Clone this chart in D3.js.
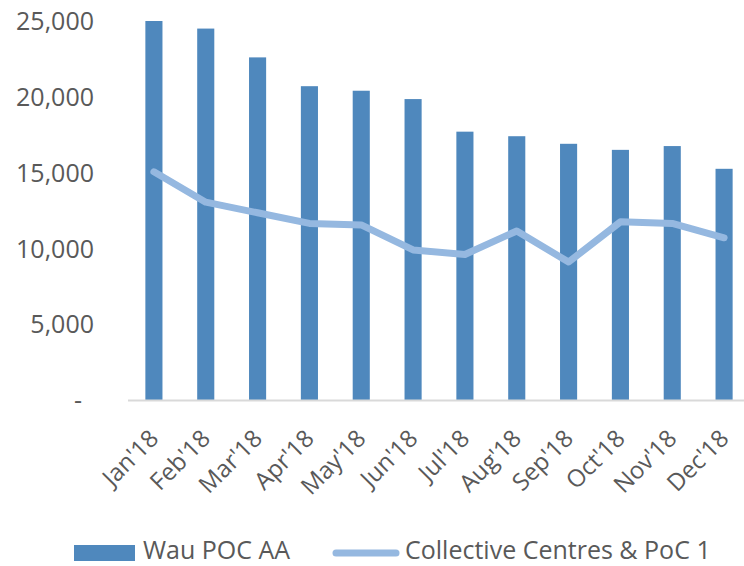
<!DOCTYPE html>
<html>
<head>
<meta charset="utf-8">
<script src="https://cdn.jsdelivr.net/npm/d3@7"></script>
<style>
  body { margin: 0; background: #fff; }
  text { font-family: "Open Sans", sans-serif; fill: #595959; }
</style>
</head>
<body>
<svg id="chart" width="744" height="566"></svg>
<script>
const months = ["Jan'18", "Feb'18", "Mar'18", "Apr'18", "May'18", "Jun'18",
                "Jul'18", "Aug'18", "Sep'18", "Oct'18", "Nov'18", "Dec'18"];
const wauPoc = [25000, 24500, 22600, 20700, 20400, 19850, 17700, 17400, 16900, 16500, 16750, 15250];
const collective = [15050, 13050, 12350, 11650, 11550, 9900, 9600, 11150, 9100, 11750, 11650, 10700];
const yTicks = [0, 5000, 10000, 15000, 20000, 25000];
const seriesNames = ["Wau POC AA", "Collective Centres & PoC 1"];

const svg = d3.select('#chart');
const barColor = '#4f88bd';
const lineColor = '#95b8e0';

const x = d3.scaleBand().domain(months).range([128, 750]).paddingInner(0.67).paddingOuter(0.335);
const y = d3.scaleLinear().domain([0, 25000]).range([400, 21]);
const fmt = d3.format(',');

// y axis labels (no line)
const yAxis = svg.append('g')
  .attr('transform', 'translate(94,0)')
  .call(d3.axisLeft(y).tickValues(yTicks).tickSize(0).tickPadding(0)
    .tickFormat(d => d === 0 ? '-' : fmt(d)));
yAxis.select('.domain').remove();
yAxis.selectAll('text')
  .attr('font-size', 25)
  .attr('font-family', '"Open Sans", sans-serif')
  .attr('fill', '#595959')
  .attr('dy', '0.35em')
  .attr('dx', d => d === 0 ? -12 : 0);

// bars
svg.append('g').selectAll('rect')
  .data(wauPoc)
  .join('rect')
  .attr('x', (d, i) => x(months[i]))
  .attr('y', d => y(d))
  .attr('width', x.bandwidth())
  .attr('height', d => y(0) - y(d))
  .attr('fill', barColor);

// x axis
const xAxis = svg.append('g')
  .attr('transform', `translate(0,${y(0)})`)
  .call(d3.axisBottom(x).tickSize(0).tickPadding(0));
xAxis.select('.domain').attr('stroke', '#d9d9d9').attr('stroke-width', 2)
  .attr('d', 'M128,0.5H744');
xAxis.selectAll('text')
  .attr('font-size', 24)
  .attr('font-family', '"Open Sans", sans-serif')
  .attr('fill', '#595959')
  .attr('text-anchor', 'end')
  .attr('dy', 0)
  .attr('transform', 'translate(6,40) rotate(-45)');

// line
const line = d3.line()
  .x((d, i) => x(months[i]) + x.bandwidth() / 2)
  .y(d => y(d));
svg.append('path')
  .datum(collective)
  .attr('d', line)
  .attr('fill', 'none')
  .attr('stroke', lineColor)
  .attr('stroke-width', 7)
  .attr('stroke-linecap', 'round')
  .attr('stroke-linejoin', 'round');

// legend
const legend = svg.append('g');
legend.append('rect')
  .attr('x', 74).attr('y', 545).attr('width', 61).attr('height', 16)
  .attr('fill', barColor);
legend.append('text')
  .attr('x', 143).attr('y', 559)
  .attr('font-size', 25)
  .text(seriesNames[0]);
legend.append('line')
  .attr('x1', 336).attr('x2', 396).attr('y1', 553).attr('y2', 553)
  .attr('stroke', lineColor).attr('stroke-width', 7).attr('stroke-linecap', 'round');
legend.append('text')
  .attr('x', 405).attr('y', 559)
  .attr('font-size', 25)
  .text(seriesNames[1]);
</script>
</body>
</html>
